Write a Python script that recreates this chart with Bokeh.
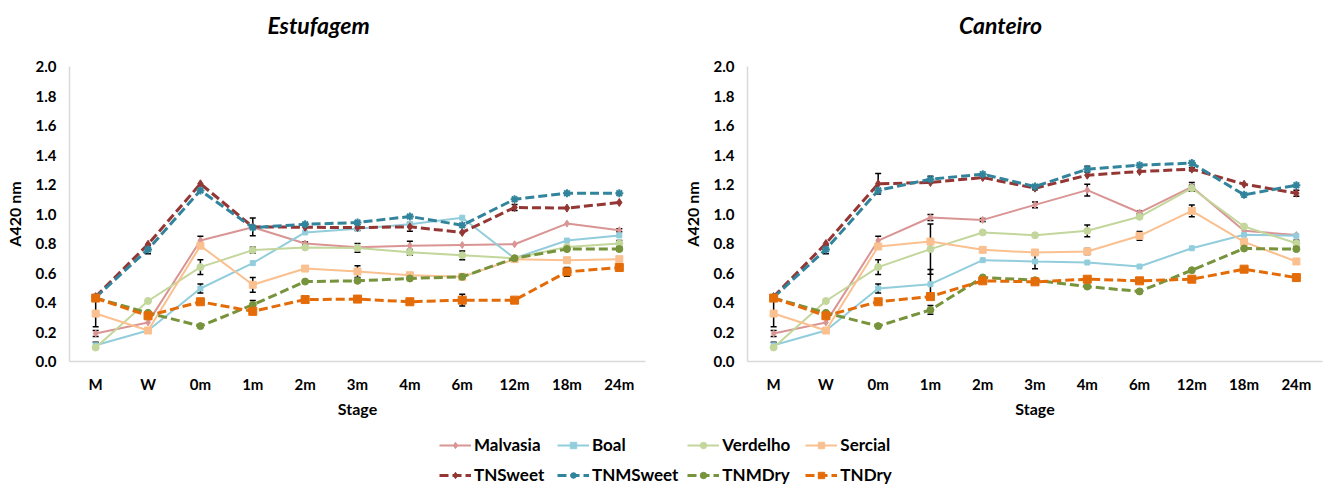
from bokeh.plotting import figure
from bokeh.models import (ColumnDataSource, FactorRange, Range1d, Whisker, TeeHead,
                          Legend, LegendItem, NumeralTickFormatter, Label)
from bokeh.layouts import column, row
from bokeh.embed import file_html
from bokeh.resources import INLINE

# ---- data -------------------------------------------------------------
stages = ["M", "W", "0m", "1m", "2m", "3m", "4m", "6m", "12m", "18m", "24m"]
y_ticks = [0.0, 0.2, 0.4, 0.6, 0.8, 1.0, 1.2, 1.4, 1.6, 1.8, 2.0]
series_names = ["Malvasia", "Boal", "Verdelho", "Sercial",
                "TNSweet", "TNMSweet", "TNMDry", "TNDry"]
chart_titles = ["Estufagem", "Canteiro"]

# Estufagem (A420 nm)
est_malvasia = [0.19, 0.265, 0.82, 0.91, 0.80, 0.775, 0.785, 0.79, 0.795, 0.935, 0.89]
est_boal = [0.11, 0.21, 0.495, 0.667, 0.875, 0.90, 0.93, 0.975, 0.70, 0.82, 0.855]
est_verdelho = [0.095, 0.41, 0.64, 0.755, 0.773, 0.77, 0.74, 0.72, 0.70, 0.777, 0.80]
est_sercial = [0.325, 0.21, 0.785, 0.52, 0.63, 0.61, 0.585, 0.574, 0.694, 0.687, 0.694]
est_tnsweet = [0.44, 0.795, 1.205, 0.913, 0.91, 0.908, 0.913, 0.875, 1.044, 1.04, 1.078]
est_tnmsweet = [0.435, 0.76, 1.16, 0.908, 0.93, 0.942, 0.983, 0.924, 1.10, 1.141, 1.141]
est_tnmdry = [0.43, 0.33, 0.24, 0.384, 0.542, 0.547, 0.563, 0.574, 0.70, 0.762, 0.762]
est_tndry = [0.43, 0.31, 0.405, 0.34, 0.42, 0.423, 0.405, 0.416, 0.416, 0.608, 0.637]

est_err_malvasia = [0.02, 0, 0.03, 0.01, 0.01, 0, 0.03, 0, 0, 0, 0.01]
est_err_boal = [0.02, 0, 0.03, 0, 0, 0, 0, 0, 0, 0, 0]
est_err_verdelho = [0, 0, 0.05, 0.02, 0, 0.03, 0.02, 0.03, 0, 0, 0.02]
est_err_sercial = [0.09, 0, 0, 0.05, 0, 0.04, 0, 0, 0, 0, 0]
est_err_tnsweet = [0, 0, 0, 0.06, 0, 0.02, 0.03, 0, 0.02, 0, 0]
est_err_tnmsweet = [0, 0.03, 0, 0, 0, 0, 0, 0, 0, 0, 0]
est_err_tnmdry = [0, 0, 0, 0.03, 0, 0, 0, 0, 0.01, 0.01, 0.01]
est_err_tndry = [0, 0, 0, 0, 0, 0, 0, 0.04, 0, 0.03, 0.02]

# Canteiro (A420 nm)
can_malvasia = [0.19, 0.265, 0.82, 0.976, 0.96, 1.062, 1.162, 1.01, 1.184, 0.886, 0.857]
can_boal = [0.11, 0.21, 0.495, 0.524, 0.687, 0.678, 0.671, 0.644, 0.768, 0.859, 0.852]
can_verdelho = [0.095, 0.41, 0.64, 0.762, 0.875, 0.856, 0.886, 0.981, 1.175, 0.915, 0.802]
can_sercial = [0.325, 0.21, 0.78, 0.813, 0.757, 0.739, 0.746, 0.852, 1.021, 0.811, 0.678]
can_tnsweet = [0.44, 0.80, 1.205, 1.214, 1.247, 1.175, 1.263, 1.288, 1.304, 1.202, 1.141]
can_tnmsweet = [0.435, 0.76, 1.16, 1.236, 1.27, 1.186, 1.304, 1.331, 1.345, 1.13, 1.195]
can_tnmdry = [0.43, 0.33, 0.24, 0.35, 0.57, 0.551, 0.508, 0.475, 0.619, 0.766, 0.762]
can_tndry = [0.43, 0.31, 0.405, 0.44, 0.547, 0.54, 0.558, 0.547, 0.558, 0.626, 0.569]

can_err_malvasia = [0.02, 0, 0.03, 0.02, 0.01, 0.02, 0.04, 0.01, 0.03, 0, 0]
can_err_boal = [0.02, 0, 0.03, 0.10, 0, 0.05, 0, 0, 0, 0, 0]
can_err_verdelho = [0, 0, 0.05, 0.17, 0, 0, 0.04, 0, 0.02, 0, 0.02]
can_err_sercial = [0.09, 0, 0, 0, 0, 0, 0.02, 0.03, 0.04, 0, 0]
can_err_tnsweet = [0, 0, 0.07, 0, 0, 0.01, 0, 0, 0.01, 0, 0.02]
can_err_tnmsweet = [0, 0.03, 0, 0.02, 0, 0, 0.02, 0, 0, 0, 0]
can_err_tnmdry = [0, 0, 0, 0.03, 0, 0, 0, 0, 0, 0, 0]
can_err_tndry = [0, 0, 0, 0, 0, 0, 0, 0, 0, 0, 0]

# ---- styling ------------------------------------------------------------
FONT = "Lato"
STYLES = {
    "Malvasia": dict(color="#D99594", dash="solid", marker="diamond", size=7, lw=2),
    "Boal": dict(color="#92CDDC", dash="solid", marker="square", size=5, lw=2),
    "Verdelho": dict(color="#C3D69B", dash="solid", marker="circle", size=7, lw=2),
    "Sercial": dict(color="#FAC090", dash="solid", marker="square", size=7, lw=2),
    "TNSweet": dict(color="#943634", dash="9 4", marker="diamond", size=8, lw=3),
    "TNMSweet": dict(color="#31849B", dash="9 4", marker="asterisk", size=8, lw=3),
    "TNMDry": dict(color="#77933C", dash="9 4", marker="circle", size=7, lw=3),
    "TNDry": dict(color="#E36C09", dash="9 4", marker="square", size=8, lw=3),
}


def bare_figure(width, height):
    f = figure(width=width, height=height, x_range=Range1d(0, width),
               y_range=Range1d(0, height), output_backend="svg", toolbar_location=None,
               min_border_left=0, min_border_right=0, min_border_top=0,
               min_border_bottom=0)
    f.axis.visible = False
    f.grid.visible = False
    f.outline_line_color = None
    return f


def add_series(p, name, xs, ys):
    st = STYLES[name]
    src = ColumnDataSource(dict(x=xs, y=ys))
    ln = p.line("x", "y", source=src, line_color=st["color"], line_width=st["lw"],
                line_dash=st["dash"])
    mk = p.scatter("x", "y", source=src, marker=st["marker"], size=st["size"],
                   fill_color=st["color"], line_color=st["color"],
                   line_width=2 if st["marker"] == "asterisk" else 1)
    return ln, mk


def add_errors(p, ys, errs):
    base = [s for s, e in zip(stages, errs) if e > 0]
    upper = [y + e for y, e in zip(ys, errs) if e > 0]
    lower = [y - e for y, e in zip(ys, errs) if e > 0]
    if not base:
        return
    src = ColumnDataSource(dict(base=base, upper=upper, lower=lower))
    w = Whisker(source=src, base="base", upper="upper", lower="lower",
                line_color="black", line_width=1.5,
                upper_head=TeeHead(size=6, line_color="black", line_width=1.5),
                lower_head=TeeHead(size=6, line_color="black", line_width=1.5))
    p.add_layout(w)


def make_chart(values, errors, width, left, right):
    p = figure(width=width, height=376, x_range=FactorRange(*stages, range_padding=0),
               y_range=Range1d(0, 2.0), output_backend="svg", toolbar_location=None,
               min_border_left=left, min_border_right=right,
               min_border_top=22, min_border_bottom=59)
    p.outline_line_color = None
    p.grid.visible = False
    p.background_fill_color = "white"
    p.border_fill_color = "white"

    for ax in (p.xaxis[0], p.yaxis[0]):
        ax.axis_line_color = "#D9D9D9"
        ax.axis_line_width = 1.5
        ax.major_tick_line_color = None
        ax.minor_tick_line_color = None
        ax.major_tick_out = 0
        ax.major_tick_in = 0
        ax.minor_tick_out = 0
        ax.major_label_text_font = FONT
        ax.major_label_text_font_size = "15px"
        ax.major_label_text_font_style = "bold"
        ax.major_label_text_color = "black"
        ax.axis_label_text_font = FONT
        ax.axis_label_text_font_size = "16px"
        ax.axis_label_text_font_style = "bold"
        ax.axis_label_text_color = "black"

    p.yaxis.ticker = y_ticks
    p.yaxis.formatter = NumeralTickFormatter(format="0.0")
    p.yaxis.axis_label = "A420 nm"
    p.yaxis.major_label_standoff = 13
    p.yaxis.axis_label_standoff = 9
    p.xaxis.axis_label = "Stage"
    p.xaxis.major_label_standoff = 13
    p.xaxis.axis_label_standoff = 3

    for name in series_names:
        add_series(p, name, stages, values[name])
        add_errors(p, values[name], errors[name])
    return p


est_values = dict(zip(series_names, [est_malvasia, est_boal, est_verdelho, est_sercial,
                                     est_tnsweet, est_tnmsweet, est_tnmdry, est_tndry]))
est_errors = dict(zip(series_names, [est_err_malvasia, est_err_boal, est_err_verdelho,
                                     est_err_sercial, est_err_tnsweet, est_err_tnmsweet,
                                     est_err_tnmdry, est_err_tndry]))
can_values = dict(zip(series_names, [can_malvasia, can_boal, can_verdelho, can_sercial,
                                     can_tnsweet, can_tnmsweet, can_tnmdry, can_tndry]))
can_errors = dict(zip(series_names, [can_err_malvasia, can_err_boal, can_err_verdelho,
                                     can_err_sercial, can_err_tnsweet, can_err_tnmsweet,
                                     can_err_tnmdry, can_err_tndry]))

p1 = make_chart(est_values, est_errors, width=660, left=69, right=15)
p2 = make_chart(can_values, can_errors, width=663, left=87, right=1)

# ---- headings strip ---------------------------------------------------------
ph = bare_figure(1323, 44)
for text, cx in zip(chart_titles, [318, 1000]):
    ph.add_layout(Label(x=cx, y=20, text=text, text_align="center",
                        text_baseline="middle", text_font=FONT, text_font_size="23px",
                        text_font_style="bold italic", text_color="black"))

# ---- shared legend --------------------------------------------------------
pl = bare_figure(1323, 66)

# swatch renderers sit outside the visible range; only their legend glyphs show
entries = {}
for name in series_names:
    ln, mk = add_series(pl, name, [-50, -40], [-50, -40])
    entries[name] = LegendItem(label=name, renderers=[ln, mk])

# legend fills column by column: varietal on top, blend below
legend_order = ["Malvasia", "TNSweet", "Boal", "TNMSweet",
                "Verdelho", "TNMDry", "Sercial", "TNDry"]
legend = Legend(items=[entries[n] for n in legend_order], ncols=4, location=(439, 1),
                padding=0, margin=0, spacing=9, glyph_width=32, glyph_height=16,
                label_standoff=3, label_width=74, label_height=21,
                label_text_font=FONT, label_text_font_size="17px",
                label_text_font_style="bold", label_text_color="black",
                background_fill_alpha=0, border_line_color=None)
pl.add_layout(legend, "center")

layout = column(ph, row(p1, p2), pl)
open("out.html", "w").write(file_html(layout, INLINE))
